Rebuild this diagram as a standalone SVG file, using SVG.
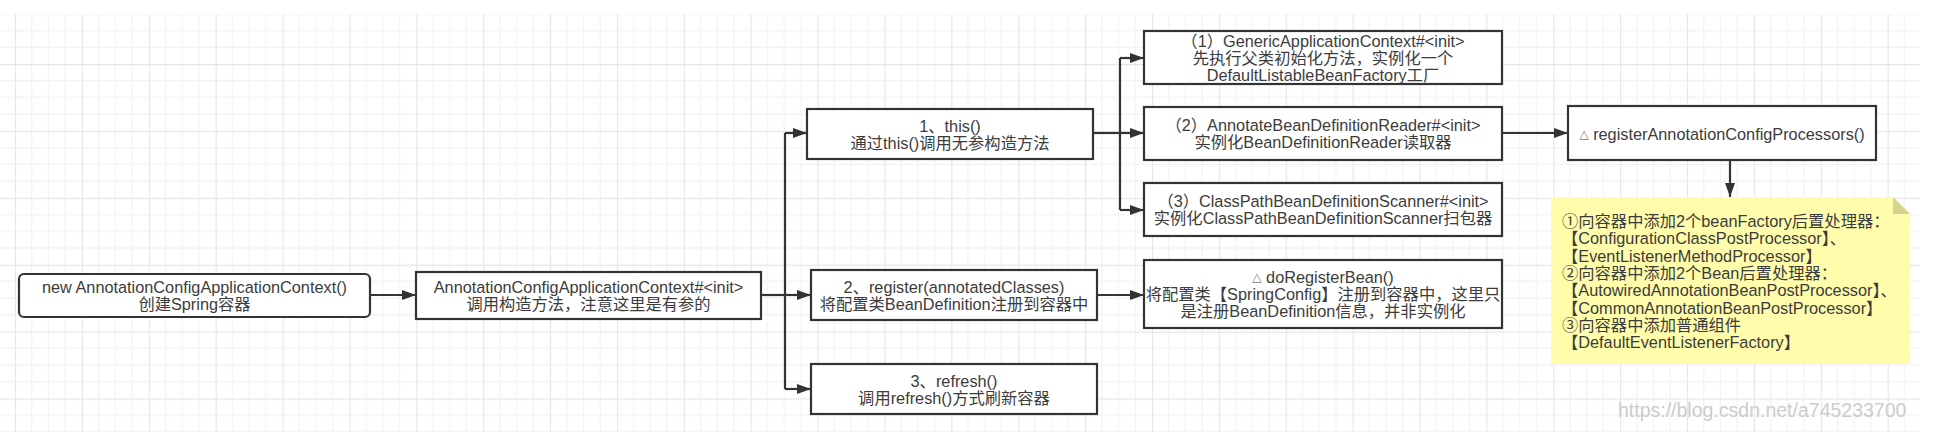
<svg xmlns="http://www.w3.org/2000/svg" width="1948" height="432" viewBox="0 0 1948 432">
<style>
.box{fill:#ffffff;stroke:#333333;stroke-width:2.2}
.t{font-family:"Liberation Sans","Noto Sans CJK SC",sans-serif;font-size:16.3px;fill:#3c3c3c;text-anchor:middle}
.nt{font-family:"Liberation Sans","Noto Sans CJK SC",sans-serif;font-size:16.3px;fill:#3c3c3c}
.ic{font-family:"DejaVu Sans",sans-serif;font-size:12px;fill:#777777}
.c{fill:none;stroke:#333333;stroke-width:2.2}
.ca{fill:none;stroke:#333333;stroke-width:2.2;marker-end:url(#arr)}
.wm{font-family:"Liberation Sans",sans-serif;font-size:19.5px;fill:#cccccc}
</style>
<defs>
<marker id="arr" markerUnits="userSpaceOnUse" markerWidth="14" markerHeight="10" refX="14" refY="5" orient="auto">
<path d="M0,0 L14,5 L0,10 z" fill="#333333"/>
</marker>
<pattern id="grid" patternUnits="userSpaceOnUse" x="15" y="-2.88" width="66.88" height="66.88">
<path d="M16.72,0 V66.88 M33.44,0 V66.88 M50.16,0 V66.88 M0,16.72 H66.88 M0,33.44 H66.88 M0,50.16 H66.88" stroke="#f3f3f3" stroke-width="1.3" fill="none"/>
<path d="M0.5,0 V66.88 M0,0.5 H66.88" stroke="#e6e6e6" stroke-width="1.3" fill="none"/>
</pattern>
</defs>
<rect x="0" y="0" width="1948" height="432" fill="#ffffff"/>
<rect x="0" y="14" width="1920" height="418" fill="url(#grid)"/>

<g id="connectors">
<path class="ca" d="M370,295 H416"/>
<path class="c" d="M761,295 H785"/>
<path class="c" d="M785,133 V389"/>
<path class="ca" d="M785,133 H807"/>
<path class="ca" d="M785,295 H811"/>
<path class="ca" d="M785,389 H811"/>
<path class="c" d="M1093,133 H1120"/>
<path class="c" d="M1120,58 V210"/>
<path class="ca" d="M1120,58 H1144"/>
<path class="ca" d="M1120,133 H1144"/>
<path class="ca" d="M1120,210 H1144"/>
<path class="ca" d="M1097,295 H1144"/>
<path class="ca" d="M1502,133 H1568"/>
<path class="ca" d="M1730,160 V197"/>
</g>

<g id="node-new">
<rect class="box" x="19" y="274" width="351" height="43" rx="5"/>
<text class="t" x="194.5" y="293">new AnnotationConfigApplicationContext()</text>
<text class="t" x="194.5" y="310">创建Spring容器</text>
</g>

<g id="node-init">
<rect class="box" x="416" y="272" width="345" height="47"/>
<text class="t" x="588.5" y="293">AnnotationConfigApplicationContext#&lt;init&gt;</text>
<text class="t" x="588.5" y="310">调用构造方法，注意这里是有参的</text>
</g>

<g id="node-this">
<rect class="box" x="807" y="109" width="286" height="50"/>
<text class="t" x="950" y="131.5">1、this()</text>
<text class="t" x="950" y="148.5">通过this()调用无参构造方法</text>
</g>

<g id="node-register">
<rect class="box" x="811" y="270" width="286" height="50"/>
<text class="t" x="954" y="292.5">2、register(annotatedClasses)</text>
<text class="t" x="954" y="309.5">将配置类BeanDefinition注册到容器中</text>
</g>

<g id="node-refresh">
<rect class="box" x="811" y="364" width="286" height="50"/>
<text class="t" x="954" y="386.5">3、refresh()</text>
<text class="t" x="954" y="403.5">调用refresh()方式刷新容器</text>
</g>

<g id="node-generic">
<rect class="box" x="1144" y="31" width="358" height="53"/>
<text class="t" x="1323" y="46.5">（1）GenericApplicationContext#&lt;init&gt;</text>
<text class="t" x="1323" y="63.5">先执行父类初始化方法，实例化一个</text>
<text class="t" x="1323" y="80.5">DefaultListableBeanFactory工厂</text>
</g>

<g id="node-reader">
<rect class="box" x="1144" y="107" width="358" height="53"/>
<text class="t" x="1323" y="131">（2）AnnotateBeanDefinitionReader#&lt;init&gt;</text>
<text class="t" x="1323" y="148">实例化BeanDefinitionReader读取器</text>
</g>

<g id="node-scanner">
<rect class="box" x="1144" y="183" width="358" height="53"/>
<text class="t" x="1323" y="207">（3）ClassPathBeanDefinitionScanner#&lt;init&gt;</text>
<text class="t" x="1323" y="224">实例化ClassPathBeanDefinitionScanner扫包器</text>
</g>

<g id="node-doregister">
<rect class="box" x="1144" y="260" width="358" height="68"/>
<text class="t" x="1323" y="283"><tspan class="ic" dy="-2">△</tspan><tspan dy="2"> doRegisterBean()</tspan></text>
<text class="t" x="1323" y="300">将配置类【SpringConfig】注册到容器中，这里只</text>
<text class="t" x="1323" y="317">是注册BeanDefinition信息，并非实例化</text>
</g>

<g id="node-processors">
<rect class="box" x="1568" y="106" width="308" height="54"/>
<text class="t" x="1722" y="139.5"><tspan class="ic" dy="-2">△</tspan><tspan dy="2"> registerAnnotationConfigProcessors()</tspan></text>
</g>

<g id="note">
<path d="M1551,197 H1893 L1910,214 V364 H1551 Z" fill="#fffcab"/>
<path d="M1893,197 L1910,214 H1893 Z" fill="#d6d38c"/>
<text class="nt" x="1562" y="227">①向容器中添加2个beanFactory后置处理器：</text>
<text class="nt" x="1562" y="244.3">【ConfigurationClassPostProcessor】、</text>
<text class="nt" x="1562" y="261.6">【EventListenerMethodProcessor】</text>
<text class="nt" x="1562" y="278.9">②向容器中添加2个Bean后置处理器：</text>
<text class="nt" x="1562" y="296.2">【AutowiredAnnotationBeanPostProcessor】、</text>
<text class="nt" x="1562" y="313.5">【CommonAnnotationBeanPostProcessor】</text>
<text class="nt" x="1562" y="330.8">③向容器中添加普通组件</text>
<text class="nt" x="1562" y="348.1">【DefaultEventListenerFactory】</text>
</g>

<text class="wm" x="1618" y="417">https://blog.csdn.net/a745233700</text>
</svg>
